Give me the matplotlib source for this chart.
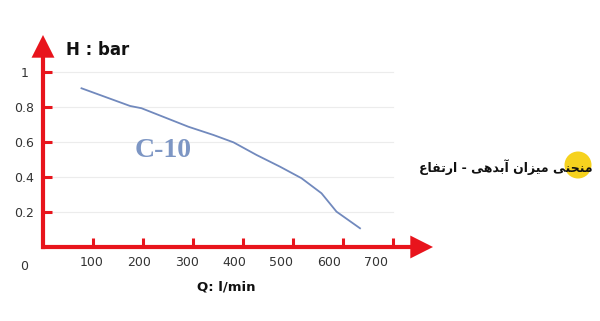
import matplotlib
matplotlib.use("Agg")
import matplotlib.pyplot as plt
from matplotlib.patches import Ellipse
from matplotlib.transforms import blended_transform_factory, offset_copy

# ---- data ----
flow_q = [77, 174, 197, 291, 341, 381, 427, 474, 517, 557, 587, 634]
head_h = [0.907, 0.806, 0.793, 0.687, 0.640, 0.598, 0.526, 0.459, 0.393, 0.307, 0.202, 0.107]
x_ticks = [100, 200, 300, 400, 500, 600, 700]
x_tick_labels = ["100", "200", "300", "400", "500", "600", "700"]
y_ticks = [0.2, 0.4, 0.6, 0.8, 1.0]
y_tick_labels = ["0.2", "0.4", "0.6", "0.8", "1"]
series_label = "C-10"
y_title = "H : bar"
x_title = "Q: l/min"
caption = "منحنی میزان آبدهی - ارتفاع"

RED = "#e8141c"
CURVE = "#7189bd"
W, H = 600, 321

# ---- simple Arabic-script shaping (matplotlib has no complex text layout) ----
FORMS = {
    'ا': ('\uFE8D', '\uFE8E'),
    'آ': ('\uFE81', '\uFE82'),
    'ب': ('\uFE8F', '\uFE90', '\uFE91', '\uFE92'),
    'ت': ('\uFE95', '\uFE96', '\uFE97', '\uFE98'),
    'ح': ('\uFEA1', '\uFEA2', '\uFEA3', '\uFEA4'),
    'د': ('\uFEA9', '\uFEAA'),
    'ر': ('\uFEAD', '\uFEAE'),
    'ز': ('\uFEAF', '\uFEB0'),
    'ع': ('\uFEC9', '\uFECA', '\uFECB', '\uFECC'),
    'ف': ('\uFED1', '\uFED2', '\uFED3', '\uFED4'),
    'م': ('\uFEE1', '\uFEE2', '\uFEE3', '\uFEE4'),
    'ن': ('\uFEE5', '\uFEE6', '\uFEE7', '\uFEE8'),
    'ه': ('\uFEE9', '\uFEEA', '\uFEEB', '\uFEEC'),
    'ی': ('\uFBFC', '\uFBFD', '\uFBFE', '\uFBFF'),
}


def shape(text):
    out = []
    n = len(text)
    for i, ch in enumerate(text):
        f = FORMS.get(ch)
        if f is None:
            out.append(ch)
            continue
        prev = text[i - 1] if i > 0 else ''
        nxt = text[i + 1] if i < n - 1 else ''
        pj = prev in FORMS and len(FORMS[prev]) == 4
        nj = len(f) == 4 and nxt in FORMS
        if pj and nj:
            out.append(f[3])
        elif pj:
            out.append(f[1])
        elif nj:
            out.append(f[2])
        else:
            out.append(f[0])
    return ''.join(reversed(out))


fig = plt.figure(figsize=(W / 100, H / 100), dpi=100)
fig.patch.set_facecolor("white")

# axes: x=0 at px 43, 100 units per 50 px; y=0 at px 247, 1 unit per 175 px
x0px, y0px = 43, 247
xmax, ymax = 780, 1.2114
ax = fig.add_axes([x0px / W, (H - y0px) / H, (xmax / 2) / W, (ymax * 175) / H])
ax.set_xlim(0, xmax)
ax.set_ylim(0, ymax)
for s in ax.spines.values():
    s.set_visible(False)
ax.set_facecolor("none")

# grid lines
for v in y_ticks:
    ax.plot([0, 700], [v, v], color="#ececec", lw=0.8, zorder=1)

# ticks (red stubs pointing inward)
ax.set_xticks(x_ticks)
ax.set_xticklabels([])
ax.set_yticks(y_ticks)
ax.set_yticklabels(y_tick_labels)
ax.tick_params(axis="x", direction="in", length=6.5, width=2.2, color=RED, labelbottom=False)
ax.tick_params(axis="y", direction="in", length=6.5, width=2.2, color=RED,
               labelsize=9, labelcolor="#333333", pad=13.3)
for t in ax.get_yticklabels():
    t.set_ha("center")

# axis arrows
arrow_kw = dict(arrowstyle="-|>,head_length=1.15,head_width=0.58", mutation_scale=10,
                lw=3, color=RED, shrinkA=0, shrinkB=0, capstyle="butt", joinstyle="miter")
ax.annotate("", xy=(0, ymax), xytext=(0, -0.012), arrowprops=arrow_kw, annotation_clip=False, zorder=3)
ax.annotate("", xy=(xmax, 0), xytext=(-3, 0), arrowprops=arrow_kw, annotation_clip=False, zorder=3)

# x tick labels (placed as in the reference, slightly compressed spacing)
bt = blended_transform_factory(ax.transData, ax.transAxes)
for v, lab in zip(x_ticks, x_tick_labels):
    ax.text(v * 0.947 + 3, 0, lab, transform=offset_copy(bt, fig=fig, y=-11.5, units="points"),
            ha="center", va="center", fontsize=9, color="#333333")
ax.text(0, 0, "0", transform=offset_copy(ax.transData, fig=fig, x=-13.7, y=-14.4, units="points"),
        ha="center", va="center", fontsize=9, color="#333333")

# curve
ax.plot(flow_q, head_h, color=CURVE, lw=1.3, zorder=4, clip_on=False)

# labels
ax.text(240, 0.554, series_label, fontsize=20, fontweight="bold", family="Liberation Serif",
        color="#7d96c4", ha="center", va="center")
fig.text(98 / W, 1 - 50 / H, y_title, fontsize=12, fontweight="bold", ha="center", va="center",
         color="#111111")
fig.text(226 / W, 1 - 287 / H, x_title, fontsize=9.5, fontweight="bold", ha="center", va="center",
         color="#111111")

# caption with yellow dot
fig.add_artist(Ellipse((578 / W, 1 - 165 / H), 27 / W, 27 / H, transform=fig.transFigure,
                       facecolor="#f6d21e", edgecolor="none", zorder=-1))
fig.text(593 / W, 1 - 167 / H, shape(caption), fontsize=9, fontweight="bold",
         family=["DejaVu Sans"], ha="right", va="center", color="#111111", zorder=5)

fig.savefig("out.png", dpi=100)
